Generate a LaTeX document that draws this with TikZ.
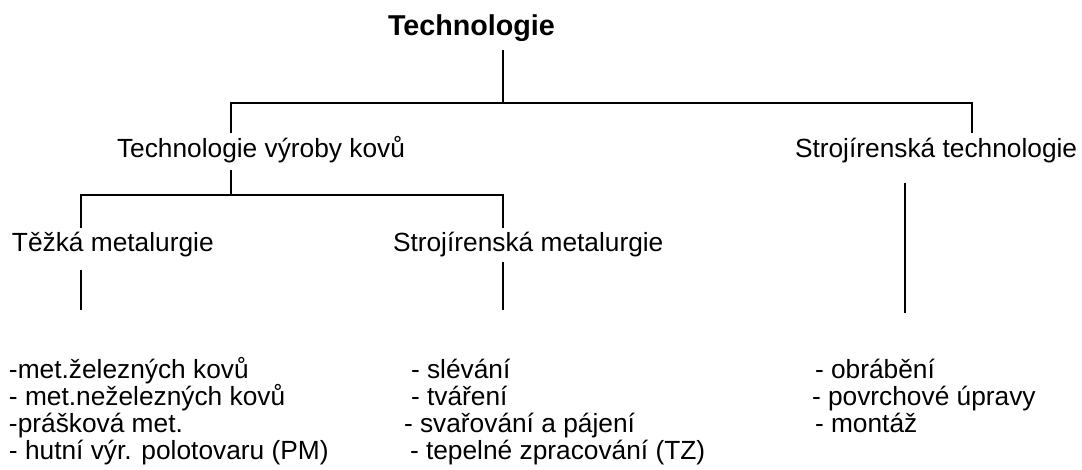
\documentclass[tikz,border=0pt]{standalone}
\usepackage{fontspec}
\setmainfont{Liberation Sans}
\begin{document}
\begin{tikzpicture}[x=1pt,y=-1pt,
  lbl/.style={anchor=base west,inner sep=0pt,outer sep=0pt,font=\fontsize{26.3}{27}\selectfont},
  ttl/.style={anchor=base west,inner sep=0pt,outer sep=0pt,font=\fontsize{28.7}{30}\selectfont\bfseries},
  conn/.style={draw=black,line width=1.4pt}]
\useasboundingbox (0,0) rectangle (1082,470);
% headings
\node[ttl] (root) at (388,36) {Technologie};
\node[lbl] (tvk) at (117,158) {Technologie výroby kovů};
\node[lbl] (st) at (795,158) {Strojírenská technologie};
\node[lbl] (tm) at (12,252) {Těžká metalurgie};
\node[lbl] (sm) at (393,252) {Strojírenská metalurgie};
% lists
\node[lbl] (l1) at (9,378) {-met.železných kovů};
\node[lbl] (l2) at (9,405) {- met.neželezných kovů};
\node[lbl] (l3) at (9,432) {-prášková met.};
\node[lbl] (l4) at (9,459) {- hutní výr. polotovaru (PM)};
\node[lbl] (m1) at (411,378) {- slévání};
\node[lbl] (m2) at (411,405) {- tváření};
\node[lbl] (m3) at (404,432) {- svařování a pájení};
\node[lbl] (m4) at (410,459) {- tepelné zpracování (TZ)};
\node[lbl] (r1) at (815,378) {- obrábění};
\node[lbl] (r2) at (812,405) {- povrchové úpravy};
\node[lbl] (r3) at (815,432) {- montáž};
% connector points
\coordinate (a0) at (503,50);
\coordinate (a1) at (503,103);
\coordinate (aL) at (231,103);
\coordinate (aR) at (972,103);
\coordinate (aLd) at (231,133);
\coordinate (aRd) at (972,133);
\coordinate (b0) at (231,170);
\coordinate (b1) at (231,195);
\coordinate (bL) at (81,195);
\coordinate (bR) at (503,195);
\coordinate (bLd) at (81,228);
\coordinate (bRd) at (503,228);
\coordinate (c1t) at (81,270);
\coordinate (c1b) at (81,310);
\coordinate (c2t) at (503,262);
\coordinate (c2b) at (503,310);
\coordinate (c3t) at (905,183);
\coordinate (c3b) at (905,313);
% connectors
\draw[conn] (a0) -- (a1);
\draw[conn] (aLd) -- (aL) -- (aR) -- (aRd);
\draw[conn] (b0) -- (b1);
\draw[conn] (bLd) -- (bL) -- (bR) -- (bRd);
\draw[conn] (c1t) -- (c1b);
\draw[conn] (c2t) -- (c2b);
\draw[conn] (c3t) -- (c3b);
\end{tikzpicture}
\end{document}
